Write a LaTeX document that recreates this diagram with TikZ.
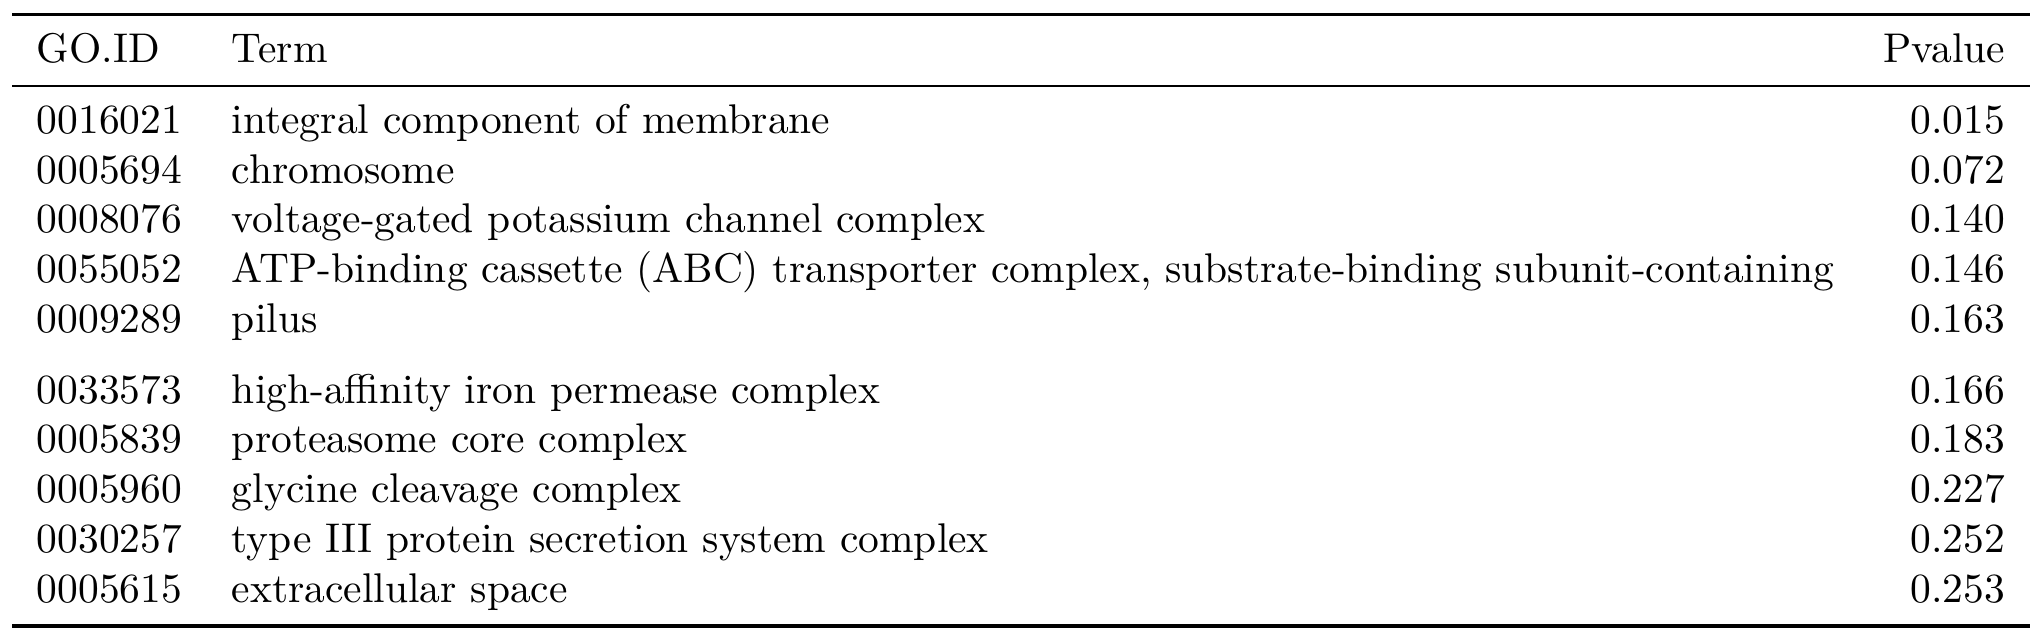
\documentclass[tikz,border=0pt]{standalone}
\usepackage{booktabs}
\begin{document}
\begin{tikzpicture}
\node[inner sep=0pt, outer sep=0pt] (tab) {%
\begin{tabular}{llr}
\toprule
GO.ID & Term & Pvalue\\
\midrule
0016021 & integral component of membrane & 0.015\\
0005694 & chromosome & 0.072\\
0008076 & voltage-gated potassium channel complex & 0.140\\
0055052 & ATP-binding cassette (ABC) transporter complex, substrate-binding subunit-containing & 0.146\\
0009289 & pilus & 0.163\\
\addlinespace
0033573 & high-affinity iron permease complex & 0.166\\
0005839 & proteasome core complex & 0.183\\
0005960 & glycine cleavage complex & 0.227\\
0030257 & type III protein secretion system complex & 0.252\\
0005615 & extracellular space & 0.253\\
\bottomrule
\end{tabular}};
\useasboundingbox ([shift={(-2.9pt,-3.1pt)}]tab.south west) rectangle ([shift={(3.1pt,3.1pt)}]tab.north east);
\end{tikzpicture}
\end{document}
